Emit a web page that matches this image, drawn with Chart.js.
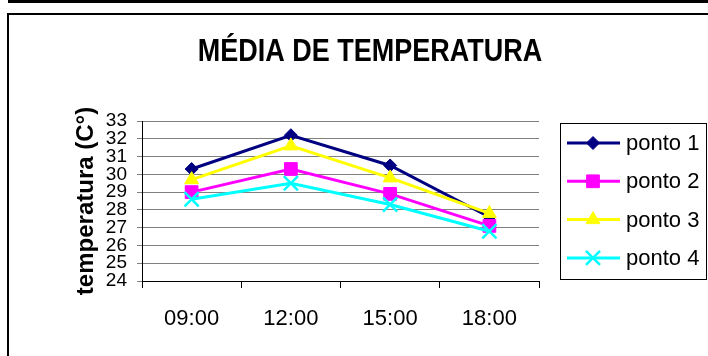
<!DOCTYPE html>
<html>
<head>
<meta charset="utf-8">
<script src="https://cdn.jsdelivr.net/npm/chart.js@4.4.0/dist/chart.umd.min.js"></script>
<style>
  body { margin: 0; background: #fff; }
  #wrap { position: relative; width: 708px; height: 356px; overflow: hidden; }
  #barra { position: absolute; left: 8px; top: 0; width: 700px; height: 3px; background: #000; }
  #moldura { position: absolute; left: 7px; top: 13px; width: 760px; height: 400px;
             border-top: 2px solid #000; border-left: 2px solid #000; }
  #grafico { position: absolute; left: 0; top: 0; }
</style>
</head>
<body>
<div id="wrap">
  <div id="barra"></div>
  <div id="moldura"></div>
  <canvas id="grafico" width="708" height="356"></canvas>
</div>
<script>
// dados
const horas = ['09:00', '12:00', '15:00', '18:00'];
const ponto1 = [30.3, 32.2, 30.5, 27.6];
const ponto2 = [29.0, 30.3, 28.9, 27.1];
const ponto3 = [29.7, 31.6, 29.8, 27.8];
const ponto4 = [28.6, 29.5, 28.3, 26.8];
const nomes = ['ponto 1', 'ponto 2', 'ponto 3', 'ponto 4'];
const yTicks = [24, 25, 26, 27, 28, 29, 30, 31, 32, 33];

const titulo = 'MÉDIA DE TEMPERATURA';
const tituloY = 'temperatura (C°)';

const cores = ['#000080', '#FF00FF', '#FFFF00', '#00FFFF'];
const estilos = ['rectRot', 'rect', 'triangle', 'crossRot'];
const raios = [6.5, 9, 8, 10];

const FONTE = "'Liberation Sans', Arial, sans-serif";

let series = [ponto1, ponto2, ponto3, ponto4];

let datasets = series.map((vals, i) => ({
  label: nomes[i],
  data: vals,
  borderColor: cores[i],
  backgroundColor: cores[i],
  borderWidth: 3,
  pointStyle: estilos[i],
  pointRadius: raios[i],
  pointHoverRadius: raios[i],
  pointBackgroundColor: cores[i],
  pointBorderColor: cores[i],
  pointBorderWidth: estilos[i] == 'crossRot' ? 2.5 : 1,
  tension: 0,
  order: 3 - i   // excel desenha a ultima serie por cima
}));

// titulo + legenda com caixa, desenhados a mao
const quadro = {
  id: 'quadro',
  afterDraw(chart) {
    const ctx = chart.ctx;
    ctx.save();
    // o titulo do original e mais alto que largo
    ctx.save();
    ctx.translate(370, 61);
    ctx.scale(1, 1.18);
    ctx.fillStyle = '#000';
    ctx.font = 'bold 27px ' + FONTE;
    ctx.textAlign = 'center';
    ctx.textBaseline = 'alphabetic';
    ctx.fillText(titulo, 0, 0);
    ctx.restore();

    // caixa da legenda
    ctx.strokeStyle = '#000';
    ctx.lineWidth = 1;
    ctx.strokeRect(560.5, 123.5, 146, 156);

    chart.data.datasets.forEach((ds, i) => {
      let y = 143 + i * 38.3;
      ctx.strokeStyle = ds.borderColor;
      ctx.lineWidth = 3;
      ctx.beginPath();
      ctx.moveTo(567, y);
      ctx.lineTo(620, y);
      ctx.stroke();

      ctx.fillStyle = ds.pointBackgroundColor;
      ctx.strokeStyle = ds.pointBorderColor;
      ctx.lineWidth = ds.pointBorderWidth;
      Chart.helpers.drawPoint(ctx, {
        pointStyle: ds.pointStyle,
        radius: ds.pointRadius,
        rotation: 0,
        borderWidth: ds.pointBorderWidth
      }, 593, y);

      ctx.fillStyle = '#000';
      ctx.font = '22px ' + FONTE;
      ctx.textAlign = 'left';
      ctx.textBaseline = 'middle';
      ctx.fillText(ds.label, 626, y + 1);
    });
    ctx.restore();
  }
};

new Chart(document.getElementById('grafico'), {
  type: 'line',
  data: { labels: horas, datasets },
  options: {
    responsive: false,
    animation: false,
    layout: { padding: { top: 121, right: 169, left: 0, bottom: 0 } },
    plugins: {
      legend: { display: false },
      title: { display: false },
      tooltip: { enabled: false }
    },
    scales: {
      x: {
        offset: true,
        grid: { offset: true, drawOnChartArea: false, tickLength: 7, color: '#000' },
        border: { color: '#000', width: 1 },
        ticks: { color: '#000', font: { family: FONTE, size: 22 }, padding: 18, maxRotation: 0 },
        afterFit: s => { s.height = 75; }
      },
      y: {
        min: 24,
        max: 33,
        afterBuildTicks: s => { s.ticks = yTicks.map(v => ({ value: v })); },
        ticks: { autoSkip: false, color: '#000', font: { family: FONTE, size: 19 }, padding: 10 },
        grid: { color: '#808080', tickLength: 5 },
        border: { color: '#000', width: 1 },
        title: {
          display: true,
          text: tituloY,
          color: '#000',
          font: { family: FONTE, size: 24, weight: 'bold' },
          padding: { top: 72, bottom: 0 }
        },
        afterFit: s => { s.width = 142; }
      }
    }
  },
  plugins: [quadro]
});
</script>
</body>
</html>
